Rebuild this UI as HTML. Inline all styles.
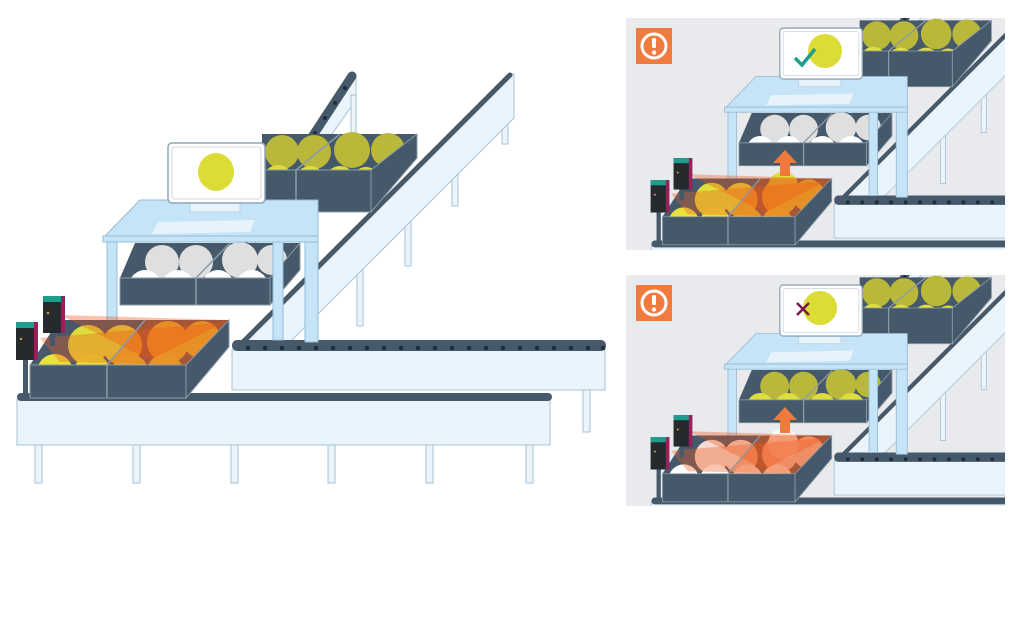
<!DOCTYPE html>
<html><head><meta charset="utf-8"><style>html,body{margin:0;padding:0;background:#fff;}svg{display:block}</style></head>
<body>
<svg width="1024" height="643" viewBox="0 0 1024 643" xmlns="http://www.w3.org/2000/svg" xmlns:xlink="http://www.w3.org/1999/xlink">
<defs>
  <clipPath id="c1"><rect x="626" y="18" width="379" height="232"/></clipPath>
  <clipPath id="c2"><rect x="626" y="275" width="379" height="231"/></clipPath>

  <g id="partA">
    <polygon points="346,80 356,75 356,100 215,300 205,300" fill="#e9f4fc" stroke="#a8c2d6" stroke-width="1"/>
    <line x1="352" y1="76" x2="205" y2="300" stroke="#46596a" stroke-width="9" stroke-linecap="round"/>
    <g fill="#1f2e3b"><circle cx="345" cy="88" r="2"/><circle cx="335" cy="103" r="2"/><circle cx="325" cy="118" r="2"/><circle cx="315" cy="133" r="2"/></g>
    <rect x="351" y="95" width="5" height="40" fill="#e9f4fc" stroke="#a8c2d6"/>
    <g fill="#e9f4fc" stroke="#a8c2d6" stroke-width="1">
      <rect x="502" y="120" width="6" height="24"/>
      <rect x="452" y="170" width="6" height="36"/>
      <rect x="405" y="217" width="6" height="49"/>
      <rect x="357" y="265" width="6" height="61"/>
    </g>
    <polygon points="508,74 514,74 514,118 284,348 238,348" fill="#e9f4fc" stroke="#a8c2d6" stroke-width="1"/>
    <line x1="510" y1="75" x2="240" y2="345" stroke="#46596a" stroke-width="5" stroke-linecap="round"/>
    <polygon points="262,134 417,134 371,170 262,170" fill="#46596a"/>
    <g fill="#b9b83a"><circle cx="282" cy="152" r="17"/><circle cx="314" cy="152" r="17"/><circle cx="352" cy="150" r="18"/><circle cx="388" cy="150" r="17"/></g>
    <g fill="#dedd3c"><circle cx="278" cy="180" r="15"/><circle cx="310" cy="181" r="15"/><circle cx="340" cy="181" r="15"/><circle cx="366" cy="181" r="14"/></g>
    <line x1="340" y1="134" x2="296" y2="170" stroke="#8a9aa8" stroke-width="1.5"/>
    <polygon points="262,170 371,170 371,212 296,212 262,200" fill="#46596a" stroke="#8a9aa8" stroke-width="1"/>
    <polygon points="371,170 417,134 417,158 371,212" fill="#46596a" stroke="#8a9aa8" stroke-width="1"/>
    <line x1="296" y1="170" x2="296" y2="212" stroke="#8a9aa8" stroke-width="1.5"/>
    <rect x="583" y="388" width="7" height="44" fill="#e9f4fc" stroke="#a8c2d6"/>
    <rect x="232" y="350" width="373" height="40" fill="#e9f4fc" stroke="#a8c2d6"/>
    <rect x="232" y="340" width="374" height="11" rx="5" fill="#46596a"/>
    <g fill="#1f2e3b">
      <circle cx="248" cy="348" r="2.3"/><circle cx="265" cy="348" r="2.3"/><circle cx="282" cy="348" r="2.3"/><circle cx="299" cy="348" r="2.3"/><circle cx="316" cy="348" r="2.3"/><circle cx="333" cy="348" r="2.3"/><circle cx="350" cy="348" r="2.3"/><circle cx="367" cy="348" r="2.3"/><circle cx="384" cy="348" r="2.3"/><circle cx="401" cy="348" r="2.3"/><circle cx="418" cy="348" r="2.3"/><circle cx="435" cy="348" r="2.3"/><circle cx="452" cy="348" r="2.3"/><circle cx="469" cy="348" r="2.3"/><circle cx="486" cy="348" r="2.3"/><circle cx="503" cy="348" r="2.3"/><circle cx="520" cy="348" r="2.3"/><circle cx="537" cy="348" r="2.3"/><circle cx="554" cy="348" r="2.3"/><circle cx="571" cy="348" r="2.3"/><circle cx="588" cy="348" r="2.3"/><circle cx="603" cy="348" r="2.3"/>
    </g>
    <polygon points="135,243 300,243 270,278 120,278" fill="#46596a"/>
  </g>

  <g id="midWhite">
    <g fill="#dfdfdf"><circle cx="162" cy="262" r="17"/><circle cx="196" cy="262" r="17"/><circle cx="240" cy="260" r="18"/><circle cx="272" cy="260" r="15"/></g>
    <g fill="#ffffff"><circle cx="145" cy="286" r="16"/><circle cx="178" cy="286" r="16"/><circle cx="218" cy="286" r="16"/><circle cx="252" cy="286" r="16"/></g>
  </g>
  <g id="midYellow">
    <g fill="#b9b83a"><circle cx="162" cy="262" r="17"/><circle cx="196" cy="262" r="17"/><circle cx="240" cy="260" r="18"/><circle cx="272" cy="260" r="15"/></g>
    <g fill="#dedd3c"><circle cx="145" cy="286" r="16"/><circle cx="178" cy="286" r="16"/><circle cx="218" cy="286" r="16"/><circle cx="252" cy="286" r="16"/></g>
  </g>

  <g id="partB">
    <line x1="230" y1="243" x2="196" y2="278" stroke="#8a9aa8" stroke-width="1.5"/>
    <polygon points="120,278 270,278 270,305 120,305" fill="#46596a" stroke="#8a9aa8" stroke-width="1"/>
    <polygon points="270,278 300,243 300,270 270,305" fill="#46596a" stroke="#8a9aa8" stroke-width="1"/>
    <line x1="196" y1="278" x2="196" y2="305" stroke="#8a9aa8" stroke-width="1.5"/>
    <g fill="#c6e4f7" stroke="#96bcd6" stroke-width="1">
      <rect x="107" y="240" width="10" height="100"/>
      <rect x="273" y="240" width="10" height="100"/>
      <rect x="305" y="236" width="13" height="106"/>
      <polygon points="105,236 140,200 318,200 318,236"/>
      <rect x="103" y="236" width="215" height="6"/>
    </g>
    <polygon points="158,222 255,220 250,232 152,234" fill="#e6f3fb"/>
    <rect x="190" y="200" width="50" height="12" fill="#e6f3fb" stroke="#b8d3e5"/>
    <rect x="168" y="143" width="97" height="60" rx="4" fill="#fff" stroke="#8fa5b5" stroke-width="1.5"/>
    <rect x="172" y="147" width="89" height="52" rx="3" fill="#fff" stroke="#d0d8de"/>
    <g fill="#e9f4fc" stroke="#a8c2d6">
      <rect x="35" y="443" width="7" height="40"/><rect x="133" y="443" width="7" height="40"/><rect x="231" y="443" width="7" height="40"/><rect x="328" y="443" width="7" height="40"/><rect x="426" y="443" width="7" height="40"/><rect x="526" y="443" width="7" height="40"/>
      <rect x="17" y="399" width="533" height="46"/>
    </g>
    <rect x="17" y="393" width="535" height="8" rx="4" fill="#46596a"/>
    <polygon points="59,320 229,320 186,365 30,365" fill="#46596a"/>
  </g>

  <g id="frontYellow">
    <g fill="#dedd3c"><circle cx="88" cy="345" r="20"/><circle cx="122" cy="345" r="20"/><circle cx="168" cy="342" r="21"/><circle cx="202" cy="340" r="19"/></g>
    <g fill="#e8e23a"><circle cx="55" cy="372" r="18"/><circle cx="92" cy="372" r="18"/><circle cx="130" cy="372" r="18"/><circle cx="165" cy="372" r="18"/></g>
  </g>
  <g id="frontWhite">
    <g fill="#f3d9cf"><circle cx="88" cy="345" r="20"/><circle cx="122" cy="345" r="20"/><circle cx="168" cy="342" r="21"/><circle cx="202" cy="340" r="19"/></g>
    <g fill="#ffffff"><circle cx="55" cy="372" r="18"/><circle cx="92" cy="372" r="18"/><circle cx="130" cy="372" r="18"/><circle cx="165" cy="372" r="18"/></g>
  </g>

  <g id="laser">
    <polygon points="40,338 229,322 186,365 60,362" fill="rgba(240,90,25,0.35)"/>
    <polygon points="60,315 229,320 150,360" fill="rgba(240,80,20,0.35)"/>
    <polygon points="145,320 229,320 186,365 107,365" fill="rgba(235,85,20,0.35)"/>
  </g>

  <g id="partC">
    <line x1="145" y1="320" x2="107" y2="365" stroke="#8a9aa8" stroke-width="1.5"/>
    <polygon points="30,365 186,365 186,398 30,398" fill="#46596a" stroke="#8a9aa8" stroke-width="1"/>
    <polygon points="186,365 229,320 229,347 186,398" fill="#46596a" stroke="#8a9aa8" stroke-width="1"/>
    <line x1="107" y1="365" x2="107" y2="398" stroke="#8a9aa8" stroke-width="1.5"/>
    <rect x="23" y="358" width="5" height="36" fill="#46596a"/>
    <rect x="50" y="332" width="5" height="14" fill="#46596a"/>
    <g>
      <rect x="16" y="322" width="22" height="38" fill="#262a2e"/>
      <rect x="16" y="322" width="22" height="6" fill="#1f9d8c"/>
      <rect x="34" y="322" width="4" height="38" fill="#9a1f5a"/>
      <circle cx="21" cy="339" r="1.2" fill="#e0a030"/>
      <rect x="43" y="296" width="22" height="37" fill="#262a2e"/>
      <rect x="43" y="296" width="22" height="6" fill="#1f9d8c"/>
      <rect x="61" y="296" width="4" height="37" fill="#9a1f5a"/>
      <circle cx="48" cy="313" r="1.2" fill="#e0a030"/>
    </g>
  </g>
</defs>

<use href="#partA"/><use href="#midWhite"/><use href="#partB"/><use href="#frontYellow"/><use href="#laser"/><use href="#partC"/>
<ellipse cx="216" cy="172" rx="18" ry="19" fill="#dcdc36"/>

<g clip-path="url(#c1)">
  <rect x="626" y="18" width="379" height="232" fill="#e8eaed"/>
  <g transform="translate(637,-93.5) scale(0.85)">
    <use href="#partA"/><use href="#midWhite"/><use href="#partB"/><use href="#frontYellow"/>
    <circle cx="172" cy="330" r="18" fill="#dedd3c"/>
    <use href="#laser"/><use href="#partC"/>
  </g>
  <circle cx="825" cy="51" r="17" fill="#dcdc36"/>
  <polyline points="795,58 802,65 815,49" fill="none" stroke="#1f9d8c" stroke-width="3.5"/>
  <rect x="780" y="161" width="10" height="15" fill="#f07a3c"/>
  <polygon points="773,163 785,150 797,163" fill="#f07a3c"/>
  <rect x="636" y="28" width="36" height="36" fill="#ef7b40"/>
  <circle cx="654" cy="46" r="12" fill="none" stroke="#fff" stroke-width="3"/>
  <rect x="652" y="38" width="4" height="10" rx="1.5" fill="#fff"/>
  <circle cx="654" cy="52.5" r="2.2" fill="#fff"/>
</g>

<g clip-path="url(#c2)">
  <rect x="626" y="275" width="379" height="231" fill="#e8eaed"/>
  <g transform="translate(637,163.5) scale(0.85)">
    <use href="#partA"/><use href="#midYellow"/><use href="#partB"/><use href="#frontWhite"/>
    <circle cx="172" cy="330" r="18" fill="#ffffff"/>
    <use href="#laser"/><use href="#partC"/>
  </g>
  <circle cx="820" cy="308" r="17" fill="#dcdc36"/>
  <line x1="797" y1="303" x2="809" y2="315" stroke="#7a1a4a" stroke-width="2.5"/>
  <line x1="809" y1="303" x2="797" y2="315" stroke="#7a1a4a" stroke-width="2.5"/>
  <rect x="780" y="418" width="10" height="15" fill="#f07a3c"/>
  <polygon points="773,420 785,407 797,420" fill="#f07a3c"/>
  <rect x="636" y="285" width="36" height="36" fill="#ef7b40"/>
  <circle cx="654" cy="303" r="12" fill="none" stroke="#fff" stroke-width="3"/>
  <rect x="652" y="295" width="4" height="10" rx="1.5" fill="#fff"/>
  <circle cx="654" cy="309.5" r="2.2" fill="#fff"/>
</g>
</svg>
</body></html>
